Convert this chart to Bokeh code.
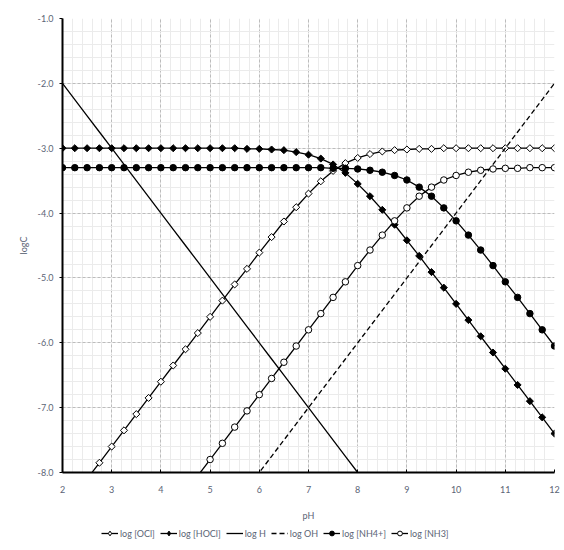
from bokeh.plotting import figure
from bokeh.layouts import column
from bokeh.models import (Range1d, Legend, LegendItem, ColumnDataSource,
                          SingleIntervalTicker, NumeralTickFormatter)
from bokeh.embed import file_html
from bokeh.resources import INLINE

ph = [2.0, 2.25, 2.5, 2.75, 3.0, 3.25, 3.5, 3.75, 4.0, 4.25, 4.5, 4.75,
      5.0, 5.25, 5.5, 5.75, 6.0, 6.25, 6.5, 6.75, 7.0, 7.25, 7.5, 7.75,
      8.0, 8.25, 8.5, 8.75, 9.0, 9.25, 9.5, 9.75, 10.0, 10.25, 10.5, 10.75,
      11.0, 11.25, 11.5, 11.75, 12.0]

log_ocl = [-8.60, -8.35, -8.10, -7.85, -7.60, -7.35, -7.10, -6.85, -6.60, -6.35,
           -6.10, -5.85, -5.60, -5.35, -5.10, -4.86, -4.61, -4.37, -4.13, -3.91,
           -3.70, -3.51, -3.35, -3.23, -3.15, -3.09, -3.05, -3.03, -3.02, -3.01,
           -3.01, -3.00, -3.00, -3.00, -3.00, -3.00, -3.00, -3.00, -3.00, -3.00, -3.00]

log_hocl = [-3.00, -3.00, -3.00, -3.00, -3.00, -3.00, -3.00, -3.00, -3.00, -3.00,
            -3.00, -3.00, -3.00, -3.00, -3.00, -3.01, -3.01, -3.02, -3.03, -3.06,
            -3.10, -3.16, -3.25, -3.38, -3.55, -3.74, -3.95, -4.18, -4.42, -4.66,
            -4.91, -5.15, -5.40, -5.65, -5.90, -6.15, -6.40, -6.65, -6.90, -7.15, -7.40]

log_h = [-2.0, -2.25, -2.5, -2.75, -3.0, -3.25, -3.5, -3.75, -4.0, -4.25, -4.5, -4.75,
         -5.0, -5.25, -5.5, -5.75, -6.0, -6.25, -6.5, -6.75, -7.0, -7.25, -7.5, -7.75,
         -8.0, -8.25, -8.5, -8.75, -9.0, -9.25, -9.5, -9.75, -10.0, -10.25, -10.5, -10.75,
         -11.0, -11.25, -11.5, -11.75, -12.0]

log_oh = [-12.0, -11.75, -11.5, -11.25, -11.0, -10.75, -10.5, -10.25, -10.0, -9.75,
          -9.5, -9.25, -9.0, -8.75, -8.5, -8.25, -8.0, -7.75, -7.5, -7.25, -7.0,
          -6.75, -6.5, -6.25, -6.0, -5.75, -5.5, -5.25, -5.0, -4.75, -4.5, -4.25,
          -4.0, -3.75, -3.5, -3.25, -3.0, -2.75, -2.5, -2.25, -2.0]

log_nh4 = [-3.30, -3.30, -3.30, -3.30, -3.30, -3.30, -3.30, -3.30, -3.30, -3.30,
           -3.30, -3.30, -3.30, -3.30, -3.30, -3.30, -3.30, -3.30, -3.30, -3.30,
           -3.30, -3.30, -3.31, -3.31, -3.32, -3.34, -3.37, -3.42, -3.49, -3.60,
           -3.74, -3.92, -4.12, -4.34, -4.57, -4.81, -5.06, -5.30, -5.55, -5.80, -6.05]

log_nh3 = [-10.80, -10.55, -10.30, -10.05, -9.80, -9.55, -9.30, -9.05, -8.80, -8.55,
           -8.30, -8.05, -7.80, -7.55, -7.30, -7.05, -6.80, -6.55, -6.30, -6.05,
           -5.80, -5.55, -5.30, -5.06, -4.81, -4.57, -4.34, -4.12, -3.92, -3.74,
           -3.60, -3.49, -3.42, -3.37, -3.34, -3.32, -3.31, -3.31, -3.30, -3.30, -3.30]

labels = ["log [OCl]", "log [HOCl]", "log H", "log OH", "log [NH4+]", "log [NH3]"]

FONT = "Lato"
GRAY = "#5b6475"
LW = 1.3

# marker style per series (None = line only); dash per series
# "lmarker"/"lsize": swatch used in the legend strip
styles = [
    dict(marker="square", angle=0.785398, size=5, fill="white", dash="solid",
         lmarker="diamond", lsize=7.5),
    dict(marker="square", angle=0.785398, size=5, fill="black", dash="solid",
         lmarker="diamond", lsize=7.5),
    dict(marker=None, dash="solid"),
    dict(marker=None, dash="5 3"),
    dict(marker="circle", angle=0.0, size=6.5, fill="black", dash="solid",
         lmarker="circle", lsize=6.5),
    dict(marker="circle", angle=0.0, size=6.5, fill="white", dash="solid",
         lmarker="circle", lsize=6.5),
]
series = [log_ocl, log_hocl, log_h, log_oh, log_nh4, log_nh3]

p = figure(frame_width=492, frame_height=454,
           x_range=Range1d(2, 12), y_range=Range1d(-8, -1),
           output_backend="svg", toolbar_location=None,
           min_border_left=62, min_border_top=18, min_border_right=10,
           min_border_bottom=50, background_fill_color="white")
p.outline_line_color = None

for ax in (p.xaxis[0], p.yaxis[0]):
    ax.ticker = SingleIntervalTicker(interval=1, num_minor_ticks=5)
    ax.axis_line_color = "black"
    ax.axis_line_width = 2
    ax.major_tick_line_color = "black"
    ax.minor_tick_line_color = None
    ax.major_label_text_font = FONT
    ax.major_label_text_font_size = "9px"
    ax.major_label_text_color = GRAY
    ax.axis_label_text_font = FONT
    ax.axis_label_text_font_size = "9px"
    ax.axis_label_text_color = GRAY
    ax.axis_label_text_font_style = "normal"

p.xaxis.major_tick_in = 3
p.xaxis.major_tick_out = 0
p.yaxis.major_tick_in = 0
p.yaxis.major_tick_out = 3
p.yaxis.formatter = NumeralTickFormatter(format="0.0")
p.xaxis.axis_label = "pH"
p.yaxis.axis_label = "logC"
p.xaxis.major_label_standoff = 9
p.xaxis.axis_label_standoff = 14
p.yaxis.major_label_standoff = 5
p.yaxis.axis_label_standoff = 6

for g in (p.xgrid[0], p.ygrid[0]):
    g.grid_line_color = "#bcbcbc"
    g.grid_line_dash = "3 2"
    g.grid_line_width = 1
    g.minor_grid_line_color = "#ebebeb"
    g.minor_grid_line_width = 1

def visible(xs, ys):
    pts = [(x, y) for x, y in zip(xs, ys) if y >= -8.0]
    return dict(x=[a for a, _ in pts], y=[b for _, b in pts])

for ys, st in zip(series, styles):
    p.line(ph, ys, line_color="black", line_width=LW, line_dash=st["dash"])
    if st["marker"]:
        p.scatter(source=ColumnDataSource(visible(ph, ys)), x="x", y="y",
                  marker=st["marker"], angle=st["angle"], size=st["size"],
                  fill_color=st["fill"], line_color="black", line_width=1)

# separate strip for the legend, below the chart
lf = figure(width=564, height=20, x_range=Range1d(0, 1), y_range=Range1d(0, 1),
            output_backend="svg", toolbar_location=None,
            min_border=0, x_axis_type=None, y_axis_type=None)
lf.outline_line_color = None
lf.xgrid.visible = False
lf.ygrid.visible = False

# off-range placeholder points: only used to style the legend swatches
hidden_x = [-5.0, -4.0]
hidden_y = [-5.0, -4.0]

items = []
for lab, st in zip(labels, styles):
    rs = [lf.line(hidden_x, hidden_y, line_color="black", line_width=LW,
                  line_dash=st["dash"])]
    if st["marker"]:
        rs.append(lf.scatter(hidden_x, hidden_y, marker=st["lmarker"],
                             size=st["lsize"], fill_color=st["fill"],
                             line_color="black", line_width=1))
    items.append(LegendItem(label=lab, renderers=rs))

legend = Legend(items=items, orientation="horizontal", location=(39, 4),
                label_text_font=FONT, label_text_font_size="9px",
                label_text_color=GRAY, glyph_width=17, glyph_height=12,
                label_height=12, label_width=10, label_standoff=2, spacing=5,
                padding=0, margin=0,
                border_line_color=None, background_fill_alpha=0)
lf.add_layout(legend, "center")

layout = column(p, lf, spacing=0)
open("out.html", "w").write(file_html(layout, INLINE))
